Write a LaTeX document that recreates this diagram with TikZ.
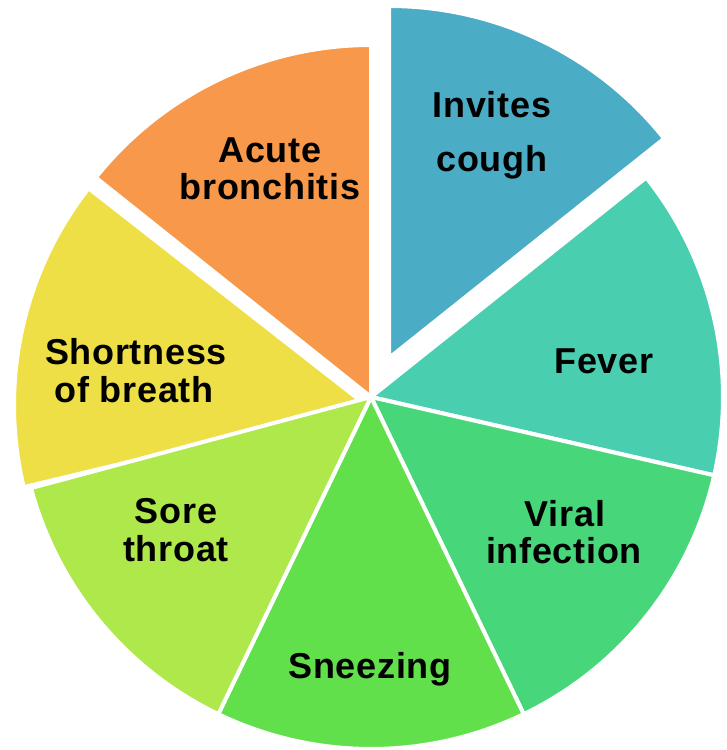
\documentclass[tikz,border=0pt]{standalone}
\usepackage{fontspec}
\setmainfont{Liberation Sans}[LetterSpace=2]
\definecolor{cblue}{HTML}{4BACC6}
\definecolor{cfever}{HTML}{4ACEB0}
\definecolor{cviral}{HTML}{47D77A}
\definecolor{csneeze}{HTML}{62E04B}
\definecolor{csore}{HTML}{AEE84B}
\definecolor{cyellow}{HTML}{EEDF47}
\definecolor{corange}{HTML}{F7984A}
\tikzset{
  slice/.style={draw=white, line width=4pt, line join=round},
  lbl/.style={anchor=base, inner sep=0pt, font=\fontsize{36}{40}\selectfont\bfseries, text=black}
}
\begin{document}
\begin{tikzpicture}[x=1pt,y=1pt]
\useasboundingbox (0,0) rectangle (727,750);
\def\R{352}
\coordinate (c0) at (371,353);
\coordinate (cb) at (389,392);
\coordinate (cy) at (366,345);
% slices
\filldraw[slice, fill=cblue] (cb) -- ++(90:\R) arc[start angle=90, end angle=38.57, radius=\R] -- cycle;
\filldraw[slice, fill=cfever] (c0) -- ++(38.57:\R) arc[start angle=38.57, end angle=-12.86, radius=\R] -- cycle;
\filldraw[slice, fill=cviral] (c0) -- ++(-12.86:\R) arc[start angle=-12.86, end angle=-64.29, radius=\R] -- cycle;
\filldraw[slice, fill=csneeze] (c0) -- ++(-64.29:\R) arc[start angle=-64.29, end angle=-115.71, radius=\R] -- cycle;
\filldraw[slice, fill=cyellow] (cy) -- ++(142:\R) arc[start angle=142, end angle=193.5, radius=\R] -- cycle;
\filldraw[slice, fill=csore] (c0) -- ++(-115.71:\R) arc[start angle=-115.71, end angle=-165, radius=\R] -- cycle;
\filldraw[slice, fill=corange] (c0) -- ++(90:\R) arc[start angle=90, end angle=141.43, radius=\R] -- cycle;
% labels
\node[lbl] (inv1) at (492,632) {Invites};
\node[lbl] (inv2) at (492,578) {cough};
\node[lbl] (acu1) at (270,587) {Acute};
\node[lbl] (acu2) at (270,550) {bronchitis};
\node[lbl] (fev) at (604,376) {Fever};
\node[lbl] (vir1) at (565,223) {Viral};
\node[lbl] (vir2) at (564,186) {infection};
\node[lbl] (snz) at (370,71) {Sneezing};
\node[lbl] (sho1) at (136,385) {Shortness};
\node[lbl] (sho2) at (134,347) {of breath};
\node[lbl] (sor1) at (176,226) {Sore};
\node[lbl] (sor2) at (176,188) {throat};
\end{tikzpicture}
\end{document}
